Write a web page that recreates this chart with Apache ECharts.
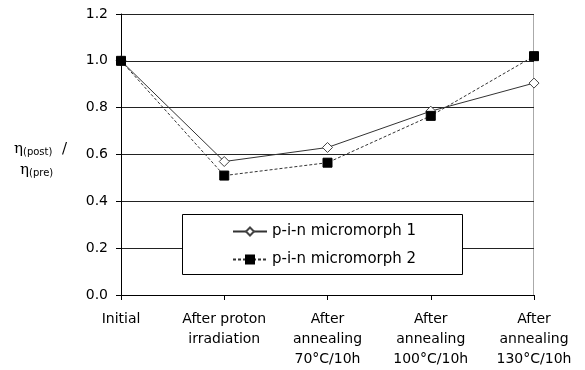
<!DOCTYPE html>
<html><head><meta charset="utf-8">
<script src="https://cdn.jsdelivr.net/npm/echarts@6/dist/echarts.min.js"></script>
<style>html,body{margin:0;padding:0;background:#fff}#c{width:585px;height:370px}</style>
</head><body><div id="c"></div>
<script>
const categories = ['Initial', 'After proton\nirradiation', 'After\nannealing\n70°C/10h', 'After\nannealing\n100°C/10h', 'After\nannealing\n130°C/10h'];
const series1Name = 'p-i-n micromorph 1';
const series2Name = 'p-i-n micromorph 2';
const series1 = [1.0, 0.57, 0.63, 0.785, 0.905];
const series2 = [1.0, 0.51, 0.565, 0.765, 1.02];

const FONT = 'DejaVu Sans';
const chart = echarts.init(document.getElementById('c'));
chart.setOption({
  animation: false,
  backgroundColor: '#fff',
  grid: { left: 121, right: 51, top: 14, bottom: 75, containLabel: false },
  xAxis: {
    type: 'category', data: categories, boundaryGap: false,
    axisLine: { lineStyle: { color: '#000', width: 1 } },
    axisTick: { show: true, alignWithLabel: true, length: 5, lineStyle: { color: '#000' } },
    axisLabel: { color: '#000', fontFamily: FONT, fontSize: 14, lineHeight: 20, margin: 14, interval: 0 },
    splitLine: { show: false }
  },
  yAxis: {
    type: 'value', min: 0, max: 1.2, interval: 0.2,
    axisLine: { show: true, lineStyle: { color: '#000' } },
    axisTick: { show: true, length: 5, lineStyle: { color: '#000' } },
    axisLabel: { color: '#000', fontFamily: FONT, fontSize: 14, margin: 13,
      formatter: v => v.toFixed(1) },
    splitLine: { show: true, lineStyle: { color: '#222', width: 1 } }
  },
  legend: {
    orient: 'vertical', left: 232, top: 224, z: 5,
    padding: 0,
    itemGap: 13, itemWidth: 34, itemHeight: 10,
    textStyle: { color: '#000', fontFamily: FONT, fontSize: 15 },
    data: [series1Name, series2Name]
  },
  graphic: [
    { type: 'rect', left: 533, top: 14, shape: { width: 1, height: 281 }, style: { fill: '#aaa' }, silent: true, z: 0 },
    { type: 'rect', left: 182, top: 214, z: 3, silent: true,
      shape: { x: 0.5, y: 0.5, width: 280, height: 60 }, style: { fill: '#fff', stroke: '#000', lineWidth: 1 } },
    { type: 'text', left: 14, top: 142, style: { text: '{e|η}{s|(post)}{e|  /}', rich: { e: { fontSize: 15, fontFamily: 'DejaVu Serif', fill: '#000' }, s: { fontSize: 10, fontFamily: FONT, fill: '#000', padding: [6,0,0,0] } } } },
    { type: 'text', left: 20, top: 163, style: { text: '{e|η}{s|(pre)}', rich: { e: { fontSize: 15, fontFamily: 'DejaVu Serif', fill: '#000' }, s: { fontSize: 10, fontFamily: FONT, fill: '#000', padding: [6,0,0,0] } } } }
  ],
  series: [
    { name: series1Name, type: 'line', data: series1, symbol: 'diamond', symbolSize: 10,
      lineStyle: { color: '#333', width: 1, type: 'solid' },
      itemStyle: { color: '#fff', borderColor: '#444', borderWidth: 1 } },
    { name: series2Name, type: 'line', data: series2, symbol: 'rect', symbolSize: 9,
      lineStyle: { color: '#333', width: 1, type: [3, 2] },
      itemStyle: { color: '#000', borderColor: '#000', borderWidth: 1 } }
  ]
});
</script></body></html>
